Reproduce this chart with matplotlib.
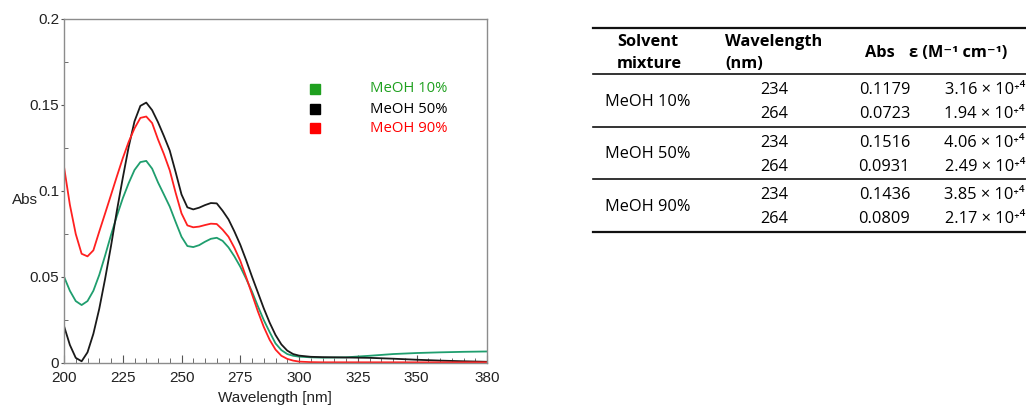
import numpy as np
import matplotlib
matplotlib.use("Agg")
import matplotlib.pyplot as plt
from matplotlib.lines import Line2D
from matplotlib.ticker import MultipleLocator, FixedLocator

# spectra #######################################################################
wavelength = [200, 202.5, 205, 207.5, 210, 212.5, 215, 217.5, 220, 222.5,
              225, 227.5, 230, 232.5, 235, 237.5, 240, 242.5, 245, 247.5,
              250, 252.5, 255, 257.5, 260, 262.5, 265, 267.5, 270, 272.5,
              275, 277.5, 280, 282.5, 285, 287.5, 290, 292.5, 295, 297.5,
              300, 305, 310, 320, 330, 340, 350, 360, 370, 380]

abs_meoh10 = [0.0502, 0.0420, 0.0360, 0.0337, 0.0360, 0.0420, 0.0512, 0.0625, 0.0744, 0.0855,
              0.0957, 0.1045, 0.1122, 0.1168, 0.1175, 0.1130, 0.1050, 0.0980, 0.0909, 0.0820,
              0.0734, 0.0680, 0.0674, 0.0685, 0.0705, 0.0722, 0.0728, 0.0710, 0.0672, 0.0620,
              0.0560, 0.0490, 0.0415, 0.0330, 0.0250, 0.0180, 0.0114, 0.0075, 0.0052, 0.0042,
              0.0037, 0.0033, 0.0031, 0.0033, 0.0042, 0.0052, 0.0058, 0.0062, 0.0065, 0.0067]

abs_meoh50 = [0.0215, 0.0105, 0.0030, 0.0010, 0.0062, 0.0170, 0.0315, 0.0490, 0.0680, 0.0885,
              0.1075, 0.1255, 0.1405, 0.1495, 0.1514, 0.1470, 0.1400, 0.1320, 0.1235, 0.1110,
              0.0980, 0.0905, 0.0893, 0.0903, 0.0918, 0.0930, 0.0928, 0.0885, 0.0835, 0.0765,
              0.0688, 0.0598, 0.0502, 0.0410, 0.0318, 0.0235, 0.0163, 0.0108, 0.0072, 0.0052,
              0.0043, 0.0036, 0.0034, 0.0032, 0.0030, 0.0025, 0.0019, 0.0014, 0.0010, 0.0007]

abs_meoh90 = [0.1141, 0.0920, 0.0750, 0.0635, 0.0620, 0.0655, 0.0764, 0.0870, 0.0977, 0.1085,
              0.1190, 0.1285, 0.1364, 0.1425, 0.1433, 0.1395, 0.1300, 0.1215, 0.1120, 0.0990,
              0.0870, 0.0800, 0.0789, 0.0793, 0.0802, 0.0810, 0.0808, 0.0775, 0.0734, 0.0670,
              0.0595, 0.0500, 0.0400, 0.0300, 0.0210, 0.0135, 0.0078, 0.0042, 0.0024, 0.0014,
              0.0008, 0.0005, 0.0004, 0.0004, 0.0004, 0.0004, 0.0004, 0.0004, 0.0004, 0.0004]

series_labels = ['MeOH 10%', 'MeOH 50%', 'MeOH 90%']
line_colors = ['#1f9e6e', '#1a1a1a', '#ff2020']
legend_colors = ['#1fa01f', '#000000', '#ff0000']

x_ticks = [200, 225, 250, 275, 300, 325, 350, 380]
y_ticks = [0, 0.05, 0.1, 0.15, 0.2]
y_tick_labels = ['0', '0.05', '0.1', '0.15', '0.2']

# table values ##################################################################
table_solvents = ['MeOH 10%', 'MeOH 50%', 'MeOH 90%']
table_wavelengths = [234, 264]
table_abs = [[0.1179, 0.0723], [0.1516, 0.0931], [0.1436, 0.0809]]
table_eps = [[3.16, 1.94], [4.06, 2.49], [3.85, 2.17]]

W, H = 1026, 407
fig = plt.figure(figsize=(W / 100, H / 100), dpi=100)

def fx(px):
    return px / W

def fy(py):
    return 1 - py / H

axis_font = 'Liberation Sans'

# spectrum ######################################################################
ax = fig.add_axes([fx(64), fy(363), 423 / W, 344 / H])
for ys, c in zip([abs_meoh10, abs_meoh50, abs_meoh90], line_colors):
    ax.plot(wavelength, ys, color=c, lw=1.3, solid_joinstyle='round')

ax.set_xlim(200, 380)
ax.set_ylim(0, 0.2)
ax.xaxis.set_major_locator(FixedLocator(x_ticks))
ax.xaxis.set_minor_locator(MultipleLocator(5))
ax.set_yticks(y_ticks)
ax.set_yticklabels(y_tick_labels)
ax.yaxis.set_minor_locator(MultipleLocator(0.025))
for s in ax.spines.values():
    s.set_color('#8c8c8c')
    s.set_linewidth(1.0)
ax.tick_params(axis='x', which='major', direction='in', length=6, color='#555555', pad=6)
ax.tick_params(axis='x', which='minor', direction='in', length=3.5, color='#555555')
ax.tick_params(axis='y', which='major', direction='out', length=2.5, color='#555555', pad=1)
ax.tick_params(axis='y', which='minor', direction='in', length=3, color='#555555')
for lab in ax.get_xticklabels() + ax.get_yticklabels():
    lab.set_fontfamily(axis_font)
    lab.set_fontsize(11)
    lab.set_color('#222222')
fig.text(fx(12), fy(200), 'Abs', fontsize=11, family=axis_font,
         color='#222222', va='center', ha='left')
fig.text(fx(275), fy(398), 'Wavelength [nm]', fontsize=11, family=axis_font,
         color='#222222', va='center', ha='center')

# legend
leg_y = [0.797, 0.738, 0.683]
for lab, c, yy in zip(series_labels, legend_colors, leg_y):
    ax.plot([0.593], [yy], marker='s', ms=6.5, color=c, transform=ax.transAxes, clip_on=False)
    ax.text(0.723, yy, lab, color=c, transform=ax.transAxes, fontsize=10.7,
            family=['Open Sans', 'DejaVu Sans'], va='center', ha='left')

# table #########################################################################
tfont = ['Open Sans', 'DejaVu Sans']
tsize = 11.8
x0, x1 = 593, 1026
for yy, lw in [(28.3, 1.6), (74, 1.2), (126.7, 1.2), (179.3, 1.2), (231.7, 1.6)]:
    fig.add_artist(Line2D([fx(x0), fx(x1)], [fy(yy), fy(yy)], color='#111111', lw=lw))

fig.text(fx(617), fy(41.7), 'Solvent', fontsize=tsize, family=tfont, weight='bold', va='center')
fig.text(fx(617), fy(64), 'mixture', fontsize=tsize, family=tfont, weight='bold', va='center')
fig.text(fx(725), fy(41.7), 'Wavelength', fontsize=tsize, family=tfont, weight='bold', va='center')
fig.text(fx(725), fy(64), '(nm)', fontsize=tsize, family=tfont, weight='bold', va='center')
fig.text(fx(880), fy(52.7), 'Abs', fontsize=tsize, family=tfont, weight='bold', va='center', ha='center')
fig.text(fx(909), fy(52.7), 'ε (M⁻¹ cm⁻¹)', fontsize=tsize, family=tfont, weight='bold', va='center')

for i, solvent in enumerate(table_solvents):
    gy = 101.7 + 52.6 * i
    fig.text(fx(605), fy(gy), solvent, fontsize=tsize, family=tfont, va='center')
    for j, wl in enumerate(table_wavelengths):
        ry = gy - 11.5 + 24 * j
        fig.text(fx(788), fy(ry), str(wl), fontsize=tsize, family=tfont, va='center', ha='right')
        fig.text(fx(910), fy(ry), f'{table_abs[i][j]:.4f}', fontsize=tsize, family=tfont,
                 va='center', ha='right')
        fig.text(fx(1025), fy(ry), f'{table_eps[i][j]:.2f} × 10⁺⁴', fontsize=tsize, family=tfont,
                 va='center', ha='right')

fig.savefig('out.png', dpi=100)
